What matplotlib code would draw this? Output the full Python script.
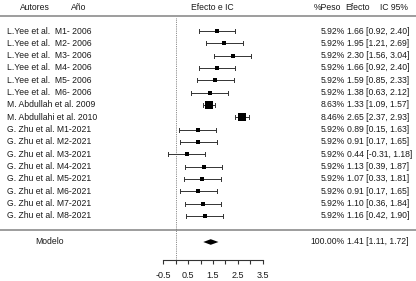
import matplotlib
matplotlib.use("Agg")
import matplotlib.pyplot as plt
from matplotlib.ticker import FixedLocator, FixedFormatter

plt.rcParams['font.family'] = ['Liberation Sans', 'DejaVu Sans']

# ---- data ----
authors = ["L.Yee et al.  M1- 2006", "L.Yee et al.  M2- 2006", "L.Yee et al.  M3- 2006",
           "L.Yee et al.  M4- 2006", "L.Yee et al.  M5- 2006", "L.Yee et al.  M6- 2006",
           "M. Abdullah et al. 2009", "M. Abdullahi et al. 2010",
           "G. Zhu et al. M1-2021", "G. Zhu et al. M2-2021", "G. Zhu et al. M3-2021",
           "G. Zhu et al. M4-2021", "G. Zhu et al. M5-2021", "G. Zhu et al. M6-2021",
           "G. Zhu et al. M7-2021", "G. Zhu et al. M8-2021"]
weights = [5.92, 5.92, 5.92, 5.92, 5.92, 5.92, 8.63, 8.46,
           5.92, 5.92, 5.92, 5.92, 5.92, 5.92, 5.92, 5.92]
effects = [1.66, 1.95, 2.30, 1.66, 1.59, 1.38, 1.33, 2.65,
           0.89, 0.91, 0.44, 1.13, 1.07, 0.91, 1.10, 1.16]
lower = [0.92, 1.21, 1.56, 0.92, 0.85, 0.63, 1.09, 2.37,
         0.15, 0.17, -0.31, 0.39, 0.33, 0.17, 0.36, 0.42]
upper = [2.40, 2.69, 3.04, 2.40, 2.33, 2.12, 1.57, 2.93,
         1.63, 1.65, 1.18, 1.87, 1.81, 1.65, 1.84, 1.90]
model_label = "Modelo"
model_weight = 100.00
model_effect = 1.41
model_lower = 1.11
model_upper = 1.72
major_ticks = [-0.5, 0.5, 1.5, 2.5, 3.5]
minor_ticks = [0, 1, 2, 3]

# ---- layout ----
W, H = 416, 281
fig = plt.figure(figsize=(W / 100, H / 100), dpi=100)
ax = fig.add_axes([0, 0, 1, 1])
ax.set_xlim(0, W)
ax.set_ylim(H, 0)
ax.axis('off')

x0_px = 175.7
unit_px = 24.85
axis_y = 260
axf = fig.add_axes([0, (H - axis_y) / H, 1, axis_y / H])
axf.set_xlim(-x0_px / unit_px, (W - x0_px) / unit_px)
axf.set_ylim(axis_y, 0)
axf.patch.set_alpha(0)
for s in ['top', 'left', 'right']:
    axf.spines[s].set_visible(False)
axf.spines['bottom'].set_bounds(major_ticks[0], major_ticks[-1])
axf.spines['bottom'].set_linewidth(0.8)
axf.spines['bottom'].set_color('#333333')
axf.set_yticks([])
axf.xaxis.set_major_locator(FixedLocator(major_ticks))
axf.xaxis.set_major_formatter(FixedFormatter([f"{t:g}" for t in major_ticks]))
axf.xaxis.set_minor_locator(FixedLocator(minor_ticks))
axf.tick_params(axis='x', which='both', direction='out', length=3, width=0.8,
                color='#333333', labelsize=6.5, labelcolor='#1a1a1a', pad=5)

tc = '#1a1a1a'
fs = 6.2
row0, dy = 31.0, 12.33
ys = [row0 + dy * i for i in range(len(authors))]
model_y = 242

# header
ax.text(35, 7, "Autores", fontsize=fs, color=tc, ha='center', va='center')
ax.text(79, 7, "Año", fontsize=fs, color=tc, ha='center', va='center')
ax.text(212, 7, "Efecto e IC", fontsize=fs, color=tc, ha='center', va='center')
ax.text(327, 7, "%Peso", fontsize=fs, color=tc, ha='center', va='center')
ax.text(357, 7, "Efecto", fontsize=fs, color=tc, ha='center', va='center')
ax.text(394, 7, "IC 95%", fontsize=fs, color=tc, ha='center', va='center')
ax.plot([0, W], [16, 16], color='#8c8c8c', lw=1.2, solid_capstyle='butt')
ax.plot([0, W], [229.5, 229.5], color='#8c8c8c', lw=1.2, solid_capstyle='butt')

# reference line
axf.plot([0, 0], [18, axis_y], color='#666666', lw=0.6, ls=(0, (1, 1.2)))

for y, a, w, e, lo, hi in zip(ys, authors, weights, effects, lower, upper):
    ax.text(7, y, a, fontsize=fs, color=tc, ha='left', va='center')
    ax.text(345, y, f"{w:.2f}%", fontsize=fs, color=tc, ha='right', va='center')
    ax.text(347, y, f"{e:.2f} [{lo:.2f}, {hi:.2f}]", fontsize=fs, color=tc,
            ha='left', va='center')
    axf.plot([lo, hi], [y, y], color='#333333', lw=0.7)
    axf.plot([lo, lo], [y - 2, y + 2], color='#333333', lw=0.7)
    axf.plot([hi, hi], [y - 2, y + 2], color='#333333', lw=0.7)
    msize = 2.2 if w < 7 else 6.0
    axf.plot([e], [y], marker='s', ms=msize, color='black', mec='black', mew=0)

# model
ax.text(49, model_y, model_label, fontsize=fs, color=tc, ha='center', va='center')
ax.text(345, model_y, f"{model_weight:.2f}%", fontsize=fs, color=tc, ha='right', va='center')
ax.text(347, model_y, f"{model_effect:.2f} [{model_lower:.2f}, {model_upper:.2f}]",
        fontsize=fs, color=tc, ha='left', va='center')
axf.fill([model_lower, model_effect, model_upper, model_effect],
         [model_y, model_y - 2.8, model_y, model_y + 2.8], color='black', lw=0)

fig.savefig("out.png", dpi=100)
